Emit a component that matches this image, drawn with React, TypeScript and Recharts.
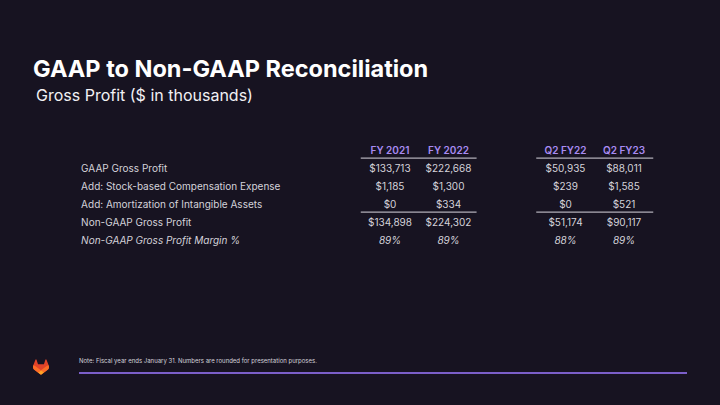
import React from 'react';
import { ScatterChart, Scatter, XAxis, YAxis, ReferenceLine } from 'recharts';

// ---- data ----
const rowLabels = [
  'GAAP Gross Profit',
  'Add: Stock-based Compensation Expense',
  'Add: Amortization of Intangible Assets',
  'Non-GAAP Gross Profit',
  'Non-GAAP Gross Profit Margin %',
];
const columnHeaders = ['FY 2021', 'FY 2022', 'Q2 FY22', 'Q2 FY23'];
const fy2021 = [133713, 1185, 0, 134898];
const fy2022 = [222668, 1300, 334, 224302];
const q2fy22 = [50935, 239, 0, 51174];
const q2fy23 = [88011, 1585, 521, 90117];
const marginPct = [89, 89, 88, 89];

const series = [fy2021, fy2022, q2fy22, q2fy23];
const columnSlots = [0, 1, 3, 4];
const LABEL_SLOT = -5.28;

const BG = '#171321';
const TEXT = '#D4D2DA';
const PURPLE = '#A98BF2';

const fmt = (v: number) => '$' + v.toLocaleString('en-US');

type Cell = { x: number; y: number; text: string; kind: 'header' | 'value' | 'italic' | 'label' | 'labelItalic' };
const cells: Cell[] = [];
columnHeaders.forEach((h, i) => cells.push({ x: columnSlots[i], y: 0, text: h, kind: 'header' }));
rowLabels.forEach((l, r) => cells.push({ x: LABEL_SLOT, y: r + 1, text: l, kind: r === 4 ? 'labelItalic' : 'label' }));
series.forEach((s, i) => {
  s.forEach((v, r) => cells.push({ x: columnSlots[i], y: r + 1, text: fmt(v), kind: 'value' }));
  cells.push({ x: columnSlots[i], y: 5, text: marginPct[i] + '%', kind: 'italic' });
});

const CellShape = (props: any) => {
  const { cx, cy, payload } = props;
  const k = payload.kind;
  const isLabel = k === 'label' || k === 'labelItalic';
  return (
    <text
      x={cx}
      y={cy}
      textAnchor={isLabel ? 'start' : 'middle'}
      dominantBaseline="central"
      fontFamily="Inter, 'Noto Sans', sans-serif"
      fontSize={10}
      fontWeight={k === 'header' ? 600 : 400}
      fontStyle={k === 'italic' || k === 'labelItalic' ? 'italic' : 'normal'}
      fill={k === 'header' ? PURPLE : TEXT}
    >
      {payload.text}
    </text>
  );
};

const Logo = () => (
  <svg width={16} height={16} viewBox="0 0 25 24" style={{ position: 'absolute', left: 33, top: 359 }}>
    <path d="M24.5 9.5l-.03-.09-3.4-8.87a.89.89 0 00-.35-.42.9.9 0 00-1.04.06.9.9 0 00-.3.45l-2.3 7.03H7.83L5.53.63a.9.9 0 00-.3-.45.9.9 0 00-1.04-.06.9.9 0 00-.35.42L.43 9.41l-.03.09a6.3 6.3 0 002.09 7.28l.01.01.03.02 5.18 3.88 2.57 1.94 1.56 1.18a1.05 1.05 0 001.27 0l1.56-1.18 2.57-1.94 5.21-3.9.01-.01a6.3 6.3 0 002.04-7.28z" fill="#E24329"/>
    <path d="M24.5 9.5l-.03-.09a11.5 11.5 0 00-4.57 2.05l-7.45 5.64 4.75 3.59 5.21-3.9.01-.01a6.3 6.3 0 002.08-7.28z" fill="#FC6D26"/>
    <path d="M7.71 20.69l2.57 1.94 1.56 1.18a1.05 1.05 0 001.27 0l1.56-1.18 2.57-1.94-4.75-3.59-4.78 3.59z" fill="#FCA326"/>
    <path d="M5 11.46A11.4 11.4 0 00.43 9.41l-.03.09a6.3 6.3 0 002.09 7.28l.01.01.03.02 5.18 3.88 4.75-3.59L5 11.46z" fill="#FC6D26"/>
  </svg>
);

export default function App() {
  return (
    <div style={{ position: 'absolute', left: 0, top: 0, width: 720, height: 405, background: BG, overflow: 'hidden', fontFamily: "Inter, 'Noto Sans', sans-serif" }}>
      <div style={{ position: 'absolute', left: 33, top: 54, fontSize: 23.5, fontWeight: 700, color: '#FFFFFF', whiteSpace: 'nowrap', lineHeight: '30px' }}>
        GAAP to Non-GAAP Reconciliation
      </div>
      <div style={{ position: 'absolute', left: 36, top: 85, fontSize: 16, fontWeight: 400, color: '#F2F1F4', whiteSpace: 'nowrap', lineHeight: '20px' }}>
        Gross Profit ($ in thousands)
      </div>
      <div style={{ position: 'absolute', left: 0, top: 0 }}>
        <ScatterChart width={720} height={405} margin={{ top: 0, right: 0, bottom: 0, left: 0 }}>
          <XAxis type="number" dataKey="x" hide domain={[-390 / 58.5, (720 - 390) / 58.5]} allowDataOverflow />
          <YAxis type="number" dataKey="y" hide reversed domain={[-150 / 18, (405 - 150) / 18]} allowDataOverflow />
          <ReferenceLine segment={[{ x: -0.5, y: 0.45 }, { x: 1.48, y: 0.45 }]} stroke="#D8D6DE" strokeWidth={1} />
          <ReferenceLine segment={[{ x: 2.5, y: 0.45 }, { x: 4.5, y: 0.45 }]} stroke="#D8D6DE" strokeWidth={1} />
          <ReferenceLine segment={[{ x: -0.5, y: 3.45 }, { x: 1.48, y: 3.45 }]} stroke="#D8D6DE" strokeWidth={1} />
          <ReferenceLine segment={[{ x: 2.5, y: 3.45 }, { x: 4.5, y: 3.45 }]} stroke="#D8D6DE" strokeWidth={1} />
          <Scatter data={cells} shape={<CellShape />} isAnimationActive={false} />
        </ScatterChart>
      </div>
      <Logo />
      <div style={{ position: 'absolute', left: 79, top: 357, fontSize: 6, color: '#D4D2DA', whiteSpace: 'nowrap', lineHeight: '8px' }}>
        Note: Fiscal year ends January 31. Numbers are rounded for presentation purposes.
      </div>
      <div style={{ position: 'absolute', left: 79, top: 371.5, width: 608, height: 2, background: '#7B5FC9' }} />
    </div>
  );
}
